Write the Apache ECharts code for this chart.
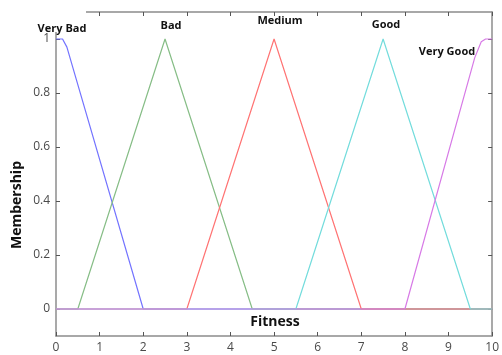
<!DOCTYPE html>
<html>
<head>
<meta charset="utf-8">
<script src="https://cdn.jsdelivr.net/npm/echarts@6/dist/echarts.min.js"></script>
<style>
html,body{margin:0;padding:0;background:#fff;}
#c{width:502px;height:355px;}
</style>
</head>
<body>
<div id="c"></div>
<script>
// Membership functions: [fitness, membership] breakpoints
const veryBad = [[0,1],[0.15,1],[0.25,0.97],[0.43,0.87],[2,0],[10,0]];
const bad = [[0,0],[0.5,0],[2.5,1],[4.5,0],[10,0]];
const medium = [[0,0],[3,0],[5,1],[7,0],[10,0]];
const good = [[0,0],[5.5,0],[7.5,1],[9.5,0],[10,0]];
const veryGood = [[0,0],[8,0],[9.6,0.93],[9.75,0.99],[9.85,1],[10,1]];
const seriesNames = ['Very Bad','Bad','Medium','Good','Very Good'];
const seriesColors = ['#7373ff','#86bd86','#ff7373','#73dcdc','#d77ae6'];
const yTicks = [0,0.2,0.4,0.6,0.8,1];
const xTicks = [0,1,2,3,4,5,6,7,8,9,10];

const chart = echarts.init(document.getElementById('c'), null, {renderer:'canvas'});
const axisCol = '#8c8c8c';
const labelFont = {fontFamily:'Open Sans', fontSize:12, color:'#4a4a4a'};
const datas = [veryBad, bad, medium, good, veryGood];

chart.setOption({
  animation:false,
  backgroundColor:'#fff',
  grid:{left:56,right:8,top:12,bottom:19},
  xAxis:[
    {type:'value',min:0,max:10,interval:1,position:'bottom',
     axisLine:{show:true,onZero:false,lineStyle:{color:axisCol,width:1.5}},
     axisTick:{show:true,inside:true,length:4,lineStyle:{color:'#555'}},
     axisLabel:Object.assign({margin:6,showMaxLabel:true},labelFont),
     splitLine:{show:false}},
    {type:'value',min:0,max:10,interval:1,position:'top',
     axisLine:{show:true,onZero:false,lineStyle:{color:axisCol,width:1.5}},
     axisTick:{show:true,inside:true,length:4,lineStyle:{color:'#555'}},
     axisLabel:{show:false},splitLine:{show:false}}
  ],
  yAxis:[
    {type:'value',min:-0.1,max:1.1,position:'left',
     axisLine:{show:true,onZero:false,lineStyle:{color:axisCol,width:1.5}},
     axisTick:{show:true,inside:true,length:4,customValues:yTicks,lineStyle:{color:'#555'}},
     axisLabel:Object.assign({margin:6,customValues:yTicks,formatter:v=>String(+v.toFixed(1))},labelFont),
     splitLine:{show:false}},
    {type:'value',min:-0.1,max:1.1,position:'right',
     axisLine:{show:true,onZero:false,lineStyle:{color:axisCol,width:1.5}},
     axisTick:{show:true,inside:true,length:4,customValues:yTicks,lineStyle:{color:'#555'}},
     axisLabel:{show:false},splitLine:{show:false}}
  ],
  series: datas.map((d,i)=>({
    name:seriesNames[i],type:'line',data:d,showSymbol:false,symbol:'none',
    xAxisIndex:0,yAxisIndex:0,
    lineStyle:{color:seriesColors[i],width:1.2},
    z:2+i
  })),
  graphic:[
    {type:'rect',left:40,top:4,z:100,shape:{width:46,height:28},style:{fill:'#fff'}},
    {type:'text',z:101,x:62,y:29,style:{text:'Very Bad',font:'bold 11px "Open Sans"',fill:'#111',align:'center',verticalAlign:'middle'}},
    {type:'text',z:101,x:171,y:26,style:{text:'Bad',font:'bold 11px "Open Sans"',fill:'#111',align:'center',verticalAlign:'middle'}},
    {type:'text',z:101,x:280,y:21,style:{text:'Medium',font:'bold 11px "Open Sans"',fill:'#111',align:'center',verticalAlign:'middle'}},
    {type:'text',z:101,x:386,y:25,style:{text:'Good',font:'bold 11px "Open Sans"',fill:'#111',align:'center',verticalAlign:'middle'}},
    {type:'text',z:101,x:447,y:52,style:{text:'Very Good',font:'bold 11px "Open Sans"',fill:'#111',align:'center',verticalAlign:'middle'}},
    {type:'text',z:101,x:275,y:322,style:{text:'Fitness',font:'bold 14px "Open Sans"',fill:'#111',align:'center',verticalAlign:'middle'}},
    {type:'text',z:101,x:17,y:205,rotation:Math.PI/2,style:{text:'Membership',font:'bold 14px "Open Sans"',fill:'#111',align:'center',verticalAlign:'middle'}}
  ]
});
</script>
</body>
</html>
